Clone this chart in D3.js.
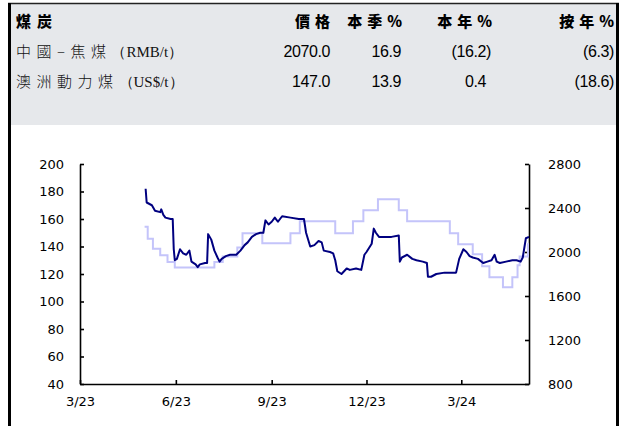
<!DOCTYPE html>
<html>
<head>
<meta charset="utf-8">
<script src="https://cdn.jsdelivr.net/npm/d3@7"></script>
<style>
  body { margin: 0; background: #fff; }
  svg { display: block; }
</style>
</head>
<body>
<div id="chart"></div>
<script>
// Header table
var headerTitle = "煤炭";
var headerCols = ["價格", "本季%", "本年%", "按年%"];
var rowNames = ["中國–焦煤", "澳洲動力煤"];
var rowUnits = ["（RMB/t）", "（US$/t）"];
var rowValues = [
    [2070.0, 16.9, -16.2, -6.3],
    [147.0, 13.9, 0.4, -18.6]
];

// Australia thermal coal, US$/t (left axis)
var ausDates = ["2023-05-03","2023-05-04","2023-05-09","2023-05-12","2023-05-17","2023-05-18","2023-05-20","2023-05-22","2023-05-27","2023-05-29",
    "2023-05-30","2023-05-31","2023-06-02","2023-06-05","2023-06-08","2023-06-11","2023-06-14","2023-06-16","2023-06-20","2023-06-22",
    "2023-06-24","2023-06-29","2023-07-01","2023-07-02","2023-07-05","2023-07-08","2023-07-11","2023-07-13","2023-07-15","2023-07-19",
    "2023-07-23","2023-07-29","2023-08-02","2023-08-06","2023-08-09","2023-08-13","2023-08-17","2023-08-21","2023-08-24","2023-08-26",
    "2023-08-29","2023-09-01","2023-09-04","2023-09-07","2023-09-11","2023-09-19","2023-09-27","2023-10-02","2023-10-04","2023-10-08",
    "2023-10-12","2023-10-16","2023-10-19","2023-10-21","2023-10-27","2023-10-30","2023-11-01","2023-11-03","2023-11-07","2023-11-12",
    "2023-11-15","2023-11-21","2023-11-26","2023-11-29","2023-12-01","2023-12-06","2023-12-08","2023-12-10","2023-12-13","2023-12-19",
    "2023-12-25","2024-01-01","2024-01-02","2024-01-04","2024-01-09","2024-01-14","2024-01-18","2024-01-24","2024-01-28","2024-01-29",
    "2024-02-01","2024-02-06","2024-02-14","2024-02-20","2024-02-25","2024-02-28","2024-03-03","2024-03-06","2024-03-09","2024-03-12",
    "2024-03-17","2024-03-22","2024-03-26","2024-03-30","2024-04-02","2024-04-04","2024-04-07","2024-04-13","2024-04-19","2024-04-23",
    "2024-04-27","2024-04-29","2024-05-02","2024-05-05"];
var ausValues = [182, 172, 170, 166, 165, 167, 163, 161, 160, 160,
    138, 130, 131, 138, 135, 134, 137, 129, 127, 125,
    127, 128, 128, 149, 145, 137, 132, 129, 131, 133,
    134, 134, 137, 141, 143, 147, 149, 150, 150, 159,
    156, 158, 161, 158, 162, 161, 160, 160, 150, 140,
    141, 144, 143, 137, 136, 135, 130, 122, 120, 124,
    123, 124, 123, 134, 136, 142, 153, 150, 147, 147,
    147, 148, 129, 132, 134, 131, 130, 129, 128, 118,
    118, 120, 121, 121, 121, 131, 138, 136, 133, 132,
    131, 128, 129, 130, 134, 129, 128, 129, 130, 130,
    129, 132, 146, 147];

// China coking coal, RMB/t (right axis)
var chnDates = ["2023-05-02","2023-05-05","2023-05-10","2023-05-17","2023-05-24","2023-05-31","2023-07-08","2023-07-16","2023-07-30","2023-08-04",
    "2023-08-23","2023-09-19","2023-09-28","2023-11-01","2023-11-18","2023-11-28","2023-12-12","2024-01-01","2024-01-09","2024-02-19",
    "2024-02-27","2024-03-12","2024-03-21","2024-03-28","2024-04-10","2024-04-19","2024-04-24","2024-04-26","2024-05-04","2024-05-05"];
var chnValues = [2230, 2120, 2030, 1970, 1910, 1860, 1910, 1960, 2040, 2170,
    2080, 2170, 2280, 2170, 2280, 2380, 2480, 2380, 2280, 2170,
    2070, 1980, 1870, 1770, 1680, 1770, 1880, 1960, 2070, 2070];

var xTickDates = ["2023-03-01", "2023-06-01", "2023-09-01", "2023-12-01", "2024-03-01"];
var xTickLabels = ["3/23", "6/23", "9/23", "12/23", "3/24"];
var leftTicks = [40, 60, 80, 100, 120, 140, 160, 180, 200];
var rightTicks = [800, 1200, 1600, 2000, 2400, 2800];

var parseDate = d3.timeParse("%Y-%m-%d");
var W = 626, H = 426;

var svg = d3.select("#chart").append("svg")
    .attr("width", W)
    .attr("height", H);

// Frame and grey header panel
svg.append("rect")
    .attr("x", 10).attr("y", 4).attr("width", 607).attr("height", 121)
    .attr("fill", "#e6e8eb");
svg.append("line")
    .attr("x1", 8).attr("x2", 619).attr("y1", 3.5).attr("y2", 3.5)
    .attr("stroke", "#222").attr("stroke-width", 1.5);
svg.append("line")
    .attr("x1", 9.5).attr("x2", 9.5).attr("y1", 3).attr("y2", H)
    .attr("stroke", "#000").attr("stroke-width", 3);
svg.append("line")
    .attr("x1", 617.5).attr("x2", 617.5).attr("y1", 3).attr("y2", H)
    .attr("stroke", "#000").attr("stroke-width", 3);

// Header table text
var cjk = "'Noto Sans CJK TC', 'Noto Sans CJK SC', sans-serif";
var colRight = [330, 402, 492, 614];
var valRight = [330, 401, 486, 609];

svg.append("text")
    .attr("x", 16).attr("y", 27)
    .attr("font-family", cjk).attr("font-weight", 900)
    .attr("font-size", "15px").attr("letter-spacing", "6px")
    .text(headerTitle);

svg.selectAll(".colhead")
    .data(headerCols)
    .enter().append("text")
    .attr("class", "colhead")
    .attr("x", function (d, i) { return colRight[i] + 5; })
    .attr("y", 27)
    .attr("text-anchor", "end")
    .attr("font-family", cjk).attr("font-weight", 900)
    .attr("font-size", "15px").attr("letter-spacing", "5px")
    .text(function (d) { return d; });

var rowY = [57, 87];
rowNames.forEach(function (name, r) {
    var t = svg.append("text")
        .attr("x", 16).attr("y", rowY[r])
        .attr("font-family", cjk).attr("font-weight", 300)
        .attr("font-size", "15px").attr("fill", "#111");
    t.append("tspan").attr("letter-spacing", "5.5px").text(name);
    t.append("tspan").attr("letter-spacing", "0px")
        .attr("font-family", "'Liberation Serif', serif")
        .attr("font-size", "15px")
        .text(rowUnits[r]);

    svg.selectAll(".val" + r)
        .data(rowValues[r])
        .enter().append("text")
        .attr("class", "val" + r)
        .attr("x", function (d, i) { return d < 0 ? valRight[i] + 5 : valRight[i]; })
        .attr("y", rowY[r])
        .attr("text-anchor", "end")
        .attr("font-family", "'Liberation Sans', Arial, sans-serif")
        .attr("font-size", "16px").attr("letter-spacing", "-0.4px")
        .text(function (d) { return d < 0 ? "(" + d3.format(".1f")(-d) + ")" : d3.format(".1f")(d); });
});

// Chart area
var plotLeft = 80, plotRight = 529, plotTop = 164, plotBottom = 384;

var x = d3.scaleTime()
    .domain([parseDate("2023-03-01"), parseDate("2024-05-05")])
    .range([plotLeft, plotRight]);
var yL = d3.scaleLinear().domain([40, 200]).range([plotBottom, plotTop]);
var yR = d3.scaleLinear().domain([800, 2800]).range([plotBottom, plotTop]);

var axisFont = "'DejaVu Sans', Verdana, sans-serif";

var gx = svg.append("g")
    .attr("transform", "translate(0," + plotBottom + ")")
    .call(d3.axisBottom(x)
        .tickValues(xTickDates.map(parseDate))
        .tickFormat(function (d, i) { return xTickLabels[i]; })
        .tickSizeInner(-4).tickSizeOuter(0).tickPadding(13));

var gl = svg.append("g")
    .attr("transform", "translate(" + plotLeft + ",0)")
    .call(d3.axisLeft(yL).tickValues(leftTicks)
        .tickFormat(d3.format("d"))
        .tickSizeInner(-4).tickSizeOuter(0).tickPadding(16));

var gr = svg.append("g")
    .attr("transform", "translate(" + plotRight + ",0)")
    .call(d3.axisRight(yR).tickValues(rightTicks)
        .tickFormat(d3.format("d"))
        .tickSizeInner(-4).tickSizeOuter(0).tickPadding(19));

[gx, gl, gr].forEach(function (g) {
    g.selectAll("path.domain").attr("stroke", "#000").attr("stroke-width", 1.6);
    g.selectAll(".tick line").attr("stroke", "#000").attr("stroke-width", 1.6);
    g.selectAll("text")
        .attr("font-family", axisFont)
        .attr("font-size", "13px")
        .attr("fill", "#000");
});

// Lines
var chnData = chnDates.map(function (d, i) { return { date: parseDate(d), value: chnValues[i] }; });
var ausData = ausDates.map(function (d, i) { return { date: parseDate(d), value: ausValues[i] }; });

svg.append("path")
    .datum(chnData)
    .attr("fill", "none")
    .attr("stroke", "#c4c4fa")
    .attr("stroke-width", 2)
    .attr("d", d3.line()
        .curve(d3.curveStepAfter)
        .x(function (d) { return x(d.date); })
        .y(function (d) { return yR(d.value); }));

svg.append("path")
    .datum(ausData)
    .attr("fill", "none")
    .attr("stroke", "#000080")
    .attr("stroke-width", 2)
    .attr("stroke-linejoin", "round")
    .attr("d", d3.line()
        .x(function (d) { return x(d.date); })
        .y(function (d) { return yL(d.value); }));
</script>
</body>
</html>
